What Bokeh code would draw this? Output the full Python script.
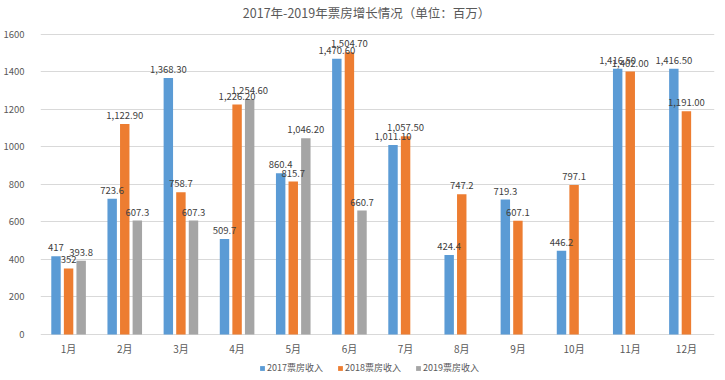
from bokeh.plotting import figure
from bokeh.models import (ColumnDataSource, FactorRange, Legend, LegendItem, LabelSet, Label,
                          Range1d, FixedTicker)
from bokeh.core.properties import value
from bokeh.transform import dodge
from bokeh.embed import file_html
from bokeh.resources import INLINE

title_text = "2017年-2019年票房增长情况（单位：百万）"
months = ["1月", "2月", "3月", "4月", "5月", "6月", "7月", "8月", "9月", "10月", "11月", "12月"]
rev_2017 = [417, 723.6, 1368.3, 509.7, 860.4, 1470.6, 1011.1, 424.4, 719.3, 446.2, 1416.5, 1416.5]
lbl_2017 = ["417", "723.6", "1,368.30", "509.7", "860.4", "1,470.60", "1,011.10", "424.4", "719.3", "446.2", "1,416.50", "1,416.50"]
rev_2018 = [352, 1122.9, 758.7, 1226.2, 815.7, 1504.7, 1057.5, 747.2, 607.1, 797.1, 1402.0, 1191.0]
lbl_2018 = ["352", "1,122.90", "758.7", "1,226.20", "815.7", "1,504.70", "1,057.50", "747.2", "607.1", "797.1", "1,402.00", "1,191.00"]
months_2019 = ["1月", "2月", "3月", "4月", "5月", "6月"]
rev_2019 = [393.8, 607.3, 607.3, 1254.6, 1046.2, 660.7]
lbl_2019 = ["393.8", "607.3", "607.3", "1,254.60", "1,046.20", "660.7"]
y_ticks = [0, 200, 400, 600, 800, 1000, 1200, 1400, 1600]
series_names = ["2017票房收入", "2018票房收入", "2019票房收入"]
colors = ["#5B9BD5", "#ED7D31", "#A5A5A5"]

FONT = "Noto Sans CJK SC"

# frame covers the whole figure height: value axis 0..1600 occupies 300px of it
p = figure(x_range=FactorRange(*months), y_range=Range1d(-224, 1781),
           width=717, height=376, output_backend="svg", toolbar_location=None,
           min_border_left=30, min_border_right=3, min_border_top=0, min_border_bottom=0)
p.outline_line_color = None
p.background_fill_color = "white"
p.border_fill_color = "white"
p.x_range.range_padding = 0
p.x_range.group_padding = 0

sources = [
    ColumnDataSource(dict(m=months, v=rev_2017, t=lbl_2017)),
    ColumnDataSource(dict(m=months, v=rev_2018, t=lbl_2018)),
    ColumnDataSource(dict(m=months_2019, v=rev_2019, t=lbl_2019)),
]
offsets = [-0.224, 0.0, 0.224]
items = []
for src, off, col, name in zip(sources, offsets, colors, series_names):
    r = p.vbar(x=dodge("m", off, range=p.x_range), top="v", width=0.168, source=src,
               fill_color=col, line_color=None)
    items.append(LegendItem(label=name, renderers=[r]))
    lab = LabelSet(x=dodge("m", off, range=p.x_range), y="v", text="t", source=src,
                   text_align="center", text_baseline="bottom", y_offset=5,
                   text_font=value(FONT), text_font_size=value("9.5px"), text_color="#404040")
    p.add_layout(lab)

# category labels under the baseline
cat_src = ColumnDataSource(dict(m=months, base=[y_ticks[0]] * len(months)))
p.text(x="m", y="base", text="m", source=cat_src, y_offset=14,
       text_align="center", text_baseline="middle",
       text_font=value(FONT), text_font_size=value("10px"), text_color="#595959")

p.yaxis.ticker = FixedTicker(ticks=y_ticks)
p.yaxis.axis_line_color = None
p.yaxis.major_tick_line_color = None
p.yaxis.minor_tick_line_color = None
p.yaxis.major_label_text_font = FONT
p.yaxis.major_label_text_font_size = "9.5px"
p.yaxis.major_label_text_color = "#595959"
p.yaxis.major_label_standoff = 10
p.xaxis.visible = False

p.xgrid.grid_line_color = None
p.ygrid.grid_line_color = "#D9D9D9"

title = Label(x=326, y=364, x_units="screen", y_units="screen", text=title_text,
              text_align="center", text_baseline="middle", text_font=FONT,
              text_font_size="12.5px", text_color="#595959")
p.add_layout(title)

legend = Legend(items=items, orientation="horizontal", location=(219, 2),
                glyph_width=6, glyph_height=6, label_standoff=2, spacing=14,
                padding=0, margin=0, border_line_color=None, background_fill_alpha=0,
                label_text_font=FONT, label_text_font_size="9px", label_text_color="#595959",
                label_height=10)
p.add_layout(legend, "center")

open("out.html", "w").write(file_html(p, INLINE))
